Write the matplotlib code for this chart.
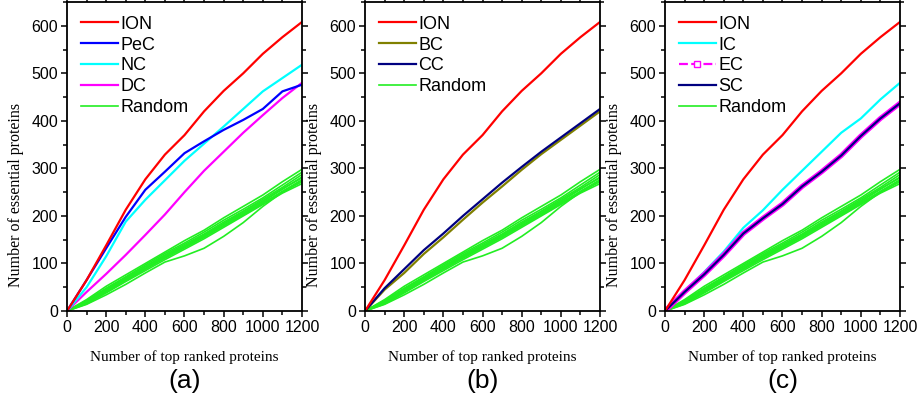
import matplotlib.pyplot as plt
from matplotlib.lines import Line2D
from matplotlib.ticker import MultipleLocator

plt.rcParams['font.family'] = ['Liberation Sans', 'DejaVu Sans']

# x positions shared by every curve
top_n = [0, 100, 200, 300, 400, 500, 600, 700, 800, 900, 1000, 1100, 1200]

ion = [0, 65, 138, 213, 277, 329, 370, 420, 463, 500, 541, 576, 608]
pec = [0, 65, 132, 198, 255, 293, 332, 357, 381, 402, 425, 462, 476]
nc = [0, 50, 115, 188, 234, 275, 316, 352, 388, 425, 462, 490, 518]
dc = [0, 40, 78, 118, 160, 203, 250, 295, 335, 375, 412, 448, 480]
bc = [0, 45, 80, 120, 155, 192, 228, 262, 297, 330, 360, 390, 420]
cc = [0, 48, 88, 128, 163, 200, 235, 270, 303, 335, 365, 395, 425]
ic = [0, 42, 82, 125, 175, 212, 255, 295, 335, 375, 405, 445, 480]
ec = [0, 40, 77, 118, 163, 195, 225, 262, 293, 327, 368, 405, 437]
sc = [0, 40, 77, 118, 163, 195, 225, 262, 293, 327, 368, 405, 437]

random_runs = [
    [0, 24, 52, 76, 100, 124, 148, 170, 196, 220, 244, 272, 298],
    [0, 22, 48, 72, 97, 121, 143, 166, 191, 214, 238, 265, 292],
    [0, 20, 46, 70, 94, 118, 140, 162, 187, 210, 235, 260, 287],
    [0, 18, 43, 66, 90, 114, 136, 158, 183, 206, 230, 256, 282],
    [0, 21, 44, 68, 93, 116, 137, 160, 184, 209, 232, 257, 280],
    [0, 17, 40, 64, 88, 111, 133, 155, 179, 202, 226, 252, 276],
    [0, 19, 42, 65, 89, 113, 134, 156, 180, 204, 228, 250, 272],
    [0, 15, 38, 62, 85, 108, 130, 152, 176, 200, 224, 248, 268],
    [0, 14, 34, 56, 80, 103, 116, 132, 157, 186, 220, 250, 275],
]

GREEN = '#22EE22'

fig = plt.figure(figsize=(9.19, 4.01), dpi=100)
lefts = [0.0729, 0.3972, 0.7236]
axes = [fig.add_axes([l, 0.2244, 0.2557, 0.7706]) for l in lefts]


def style_axis(ax, tag):
    ax.set_xlim(0, 1200)
    ax.set_ylim(0, 650)
    ax.xaxis.set_major_locator(MultipleLocator(200))
    ax.xaxis.set_minor_locator(MultipleLocator(100))
    ax.yaxis.set_major_locator(MultipleLocator(100))
    ax.yaxis.set_minor_locator(MultipleLocator(50))
    ax.tick_params(which='both', direction='out', top=True, right=True,
                   labeltop=False, labelright=False, width=1.1)
    ax.tick_params(which='major', length=4.5, labelsize=11.5, pad=2)
    ax.tick_params(which='minor', length=3)
    for s in ax.spines.values():
        s.set_linewidth(1.3)
    ax.set_xlabel('Number of top ranked proteins', family='Liberation Serif',
                  fontsize=11, labelpad=11)
    ax.set_ylabel('Number of essential proteins', family='Liberation Serif',
                  fontsize=11.5, labelpad=5)
    ax.yaxis.set_label_coords(-0.185, 0.375)
    ax.text(0.5, -0.225, tag, transform=ax.transAxes, ha='center',
            va='center', fontsize=19)


def draw_random(ax):
    for run in random_runs:
        ax.plot(top_n, run, color=GREEN, lw=1.2)


def add_legend(ax, handles, labels):
    ax.legend(handles, labels, loc='upper left', frameon=False, fontsize=13,
              handlelength=2.1, handletextpad=0.1, labelspacing=0.22,
              borderaxespad=0.35, bbox_to_anchor=(0.0, 1.0))


# (a) ION vs PeC, NC, DC
ax = axes[0]
draw_random(ax)
ax.plot(top_n, dc, color='#FF00FF', lw=1.6)
ax.plot(top_n, nc, color='#00FFFF', lw=1.6)
ax.plot(top_n, pec, color='#0000FF', lw=1.6)
ax.plot(top_n, ion, color='#FF0000', lw=1.6)
style_axis(ax, '(a)')
add_legend(ax,
           [Line2D([], [], color='#FF0000', lw=1.6),
            Line2D([], [], color='#0000FF', lw=1.6),
            Line2D([], [], color='#00FFFF', lw=1.6),
            Line2D([], [], color='#FF00FF', lw=1.6),
            Line2D([], [], color=GREEN, lw=1.2)],
           ['ION', 'PeC', 'NC', 'DC', 'Random'])

# (b) ION vs BC, CC
ax = axes[1]
draw_random(ax)
ax.plot(top_n, bc, color='#808000', lw=1.6)
ax.plot(top_n, cc, color='#000080', lw=1.6)
ax.plot(top_n, ion, color='#FF0000', lw=1.6)
style_axis(ax, '(b)')
add_legend(ax,
           [Line2D([], [], color='#FF0000', lw=1.6),
            Line2D([], [], color='#808000', lw=1.6),
            Line2D([], [], color='#000080', lw=1.6),
            Line2D([], [], color=GREEN, lw=1.2)],
           ['ION', 'BC', 'CC', 'Random'])

# (c) ION vs IC, EC, SC
ax = axes[2]
draw_random(ax)
ax.plot(top_n, ic, color='#00FFFF', lw=1.6)
ax.plot(top_n, ec, color='#FF00FF', lw=3.6)
ax.plot(top_n, sc, color='#000080', lw=1.6)
ax.plot(top_n, ion, color='#FF0000', lw=1.6)
style_axis(ax, '(c)')
add_legend(ax,
           [Line2D([], [], color='#FF0000', lw=1.6),
            Line2D([], [], color='#00FFFF', lw=1.6),
            Line2D([], [], color='#FF00FF', lw=1.6, ls=(0, (4, 1.5)),
                   marker='s', ms=4, mfc='white', mec='#FF00FF'),
            Line2D([], [], color='#000080', lw=1.6),
            Line2D([], [], color=GREEN, lw=1.2)],
           ['ION', 'IC', 'EC', 'SC', 'Random'])

fig.savefig('out.png', dpi=100)
